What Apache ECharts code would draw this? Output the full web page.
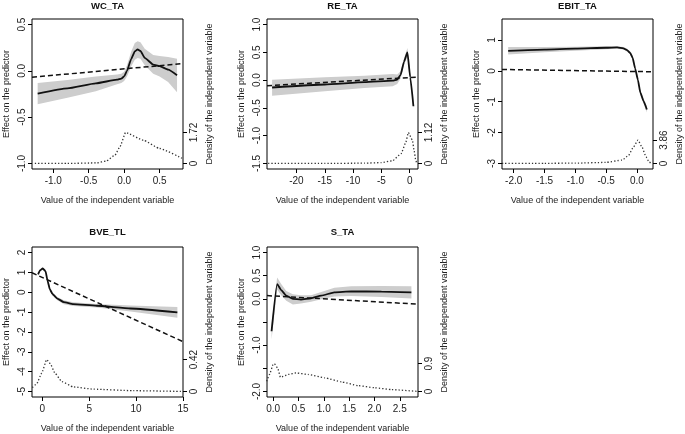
<!DOCTYPE html>
<html><head><meta charset="utf-8">
<script src="https://cdn.jsdelivr.net/npm/echarts@6/dist/echarts.min.js"></script>
<style>html,body{margin:0;padding:0;background:#fff}#c{width:685px;height:434px}</style>
</head><body><div id="c"></div>
<script>
// ---------- data ----------
const titles = ['WC_TA', 'RE_TA', 'EBIT_TA', 'BVE_TL', 'S_TA'];

// WC_TA
const wcX  = [-1.22, -0.8, -0.4, -0.1, -0.04, 0.0, 0.04, 0.1, 0.15, 0.19, 0.23, 0.29, 0.41, 0.5, 0.62, 0.746];
const wcY  = [-0.245, -0.189, -0.135, -0.095, -0.083, -0.06, 0.0, 0.13, 0.21, 0.232, 0.215, 0.14, 0.068, 0.05, 0.014, -0.047];
const wcLo = [-0.36, -0.29, -0.22, -0.145, -0.13, -0.11, -0.06, 0.05, 0.12, 0.14, 0.13, 0.06, -0.03, -0.06, -0.12, -0.23];
const wcHi = [-0.13, -0.10, -0.06, -0.04, -0.03, -0.01, 0.06, 0.21, 0.30, 0.32, 0.31, 0.24, 0.17, 0.16, 0.15, 0.13];
const wcDX = [-1.26, -0.8, -0.39, -0.25, -0.13, -0.06, 0.02, 0.27, 0.5, 0.83];
const wcDY = [0, 0, 0.03, 0.14, 0.46, 0.92, 1.72, 1.29, 0.83, 0.26];
const wcTX = [-1.30, 0.83];
const wcTY = [-0.069, 0.079];

// RE_TA
const reX  = [-24.3, -15, -8, -3, -2.2, -1.6, -1.0, -0.4, 0.1, 0.66];
const reY  = [-0.133, -0.079, -0.038, -0.01, 0.01, 0.095, 0.33, 0.50, 0.05, -0.47];
const reLo = [-0.28, -0.20, -0.14, -0.11, -0.07, 0.03, 0.27, 0.42, 0.0, -0.5];
const reHi = [0.005, 0.05, 0.08, 0.11, 0.10, 0.16, 0.39, 0.58, 0.1, -0.44];
const reDX = [-25, -15, -8, -5, -3, -1.5, -0.7, -0.23, 0.48, 0.77, 1.07, 1.25];
const reDY = [0, 0, 0.01, 0.03, 0.1, 0.36, 0.75, 1.12, 0.84, 0.48, 0.12, 0];
const reTX = [-25.2, 1.47];
const reTY = [-0.10, 0.055];

// EBIT_TA
const ebX  = [-2.09, -1.5, -1.0, -0.5, -0.324, -0.22, -0.16, -0.11, -0.07, -0.03, 0.016, 0.054, 0.107, 0.16];
const ebY  = [0.65, 0.687, 0.718, 0.749, 0.76, 0.73, 0.67, 0.58, 0.42, 0.08, -0.30, -0.70, -0.98, -1.25];
const ebLo = [0.53, 0.6, 0.65, 0.7, 0.72, 0.69, 0.62, 0.53, 0.37, 0.02, -0.36, -0.77, -1.06, -1.35];
const ebHi = [0.77, 0.77, 0.78, 0.80, 0.80, 0.77, 0.72, 0.63, 0.47, 0.14, -0.24, -0.63, -0.90, -1.15];
const ebDX = [-2.19, -1.5, -1.0, -0.51, -0.24, -0.135, -0.055, 0.016, 0.08, 0.146, 0.2, 0.25];
const ebDY = [0, 0.02, 0.05, 0.17, 0.55, 1.37, 2.75, 3.86, 2.75, 1.1, 0.2, 0];
const ebTX = [-2.19, 0.26];
const ebTY = [0.045, -0.03];

// BVE_TL
const bvX  = [-0.45, -0.25, 0.05, 0.35, 0.55, 0.8, 1.1, 1.6, 2.3, 3.3, 5.8, 9.4, 14.4];
const bvY  = [0.9, 1.1, 1.2, 1.05, 0.6, 0.15, -0.1, -0.32, -0.5, -0.6, -0.68, -0.82, -1.02];
const bvLo = [0.85, 1.05, 1.15, 1.0, 0.55, 0.1, -0.16, -0.4, -0.6, -0.69, -0.77, -0.97, -1.29];
const bvHi = [0.95, 1.15, 1.25, 1.1, 0.65, 0.2, -0.04, -0.24, -0.4, -0.51, -0.59, -0.67, -0.75];
const bvDX = [-1.07, -0.6, -0.07, 0.47, 0.83, 1.36, 2.07, 3.3, 5.45, 9.7, 15];
const bvDY = [0.05, 0.1, 0.24, 0.42, 0.37, 0.24, 0.13, 0.06, 0.03, 0.01, 0];
const bvTX = [-1.1, 15.0];
const bvTY = [0.98, -2.49];

// S_TA
const stX  = [-0.03, 0.08, 0.16, 0.26, 0.39, 0.55, 0.75, 0.95, 1.21, 1.54, 2.14, 2.73];
const stY  = [-0.70, 0.32, 0.19, 0.07, 0.0, -0.015, 0.013, 0.07, 0.14, 0.16, 0.157, 0.14];
const stLo = [-0.88, 0.20, 0.08, -0.04, -0.12, -0.10, -0.06, -0.01, 0.05, 0.06, 0.04, 0.01];
const stHi = [-0.55, 0.46, 0.32, 0.17, 0.10, 0.08, 0.08, 0.15, 0.24, 0.27, 0.28, 0.27];
const stDX = [-0.127, -0.07, 0.0, 0.026, 0.09, 0.145, 0.3, 0.455, 0.69, 1.02, 1.35, 1.68, 2.0, 2.34, 2.86];
const stDY = [0.33, 0.55, 0.87, 0.9, 0.76, 0.46, 0.55, 0.6, 0.55, 0.44, 0.31, 0.19, 0.12, 0.06, 0.0];
const stTX = [-0.12, 2.86];
const stTY = [0.07, -0.115];

// axis ranges and ticks
const xRanges = [[-1.30, 0.83], [-25.2, 1.47], [-2.19, 0.26], [-1.1, 15.0], [-0.12, 2.86]];
const yRanges = [[-1.06, 0.56], [-1.6, 1.1], [-3.18, 1.68], [-5.28, 2.28], [-2.12, 1.12]];
const xTicks = [[-1.0, -0.5, 0.0, 0.5], [-20, -15, -10, -5, 0], [-2.0, -1.5, -1.0, -0.5, 0.0], [0, 5, 10, 15], [0.0, 0.5, 1.0, 1.5, 2.0, 2.5]];
const yTicks = [[-1.0, -0.5, 0.0, 0.5], [-1.5, -1.0, -0.5, 0.0, 0.5, 1.0], [-3, -2, -1, 0, 1], [-5, -4, -3, -2, -1, 0, 1, 2], [-2.0, -1.5, -1.0, -0.5, 0.0, 0.5, 1.0]];
const yTickLabels = [[-1.0, -0.5, 0.0, 0.5], [-1.5, -1.0, -0.5, 0.0, 0.5, 1.0], [-3, -2, -1, 0, 1], [-5, -4, -3, -2, -1, 0, 1, 2], [-2.0, -1.0, 0.0, 0.5, 1.0]];
const densityTop = [1.72, 1.12, 3.86, 0.42, 0.9];

// ---------- layout / style ----------
const FONT = 'Liberation Sans, Arial, sans-serif';
const gridPos = [[32, 19], [267, 19], [502, 19], [32, 247], [267, 247]];
const titleTop = [1, 1, 1, 227, 227];
const GW = 151, GH = 150;
const densFrac = [0.223, 0.223, 0.168, 0.229, 0.2];
const decimals = [[1, 1], [0, 1], [1, 0], [0, 0], [1, 1]];

const sets = [
  [wcX, wcY, wcLo, wcHi, wcDX, wcDY, wcTX, wcTY],
  [reX, reY, reLo, reHi, reDX, reDY, reTX, reTY],
  [ebX, ebY, ebLo, ebHi, ebDX, ebDY, ebTX, ebTY],
  [bvX, bvY, bvLo, bvHi, bvDX, bvDY, bvTX, bvTY],
  [stX, stY, stLo, stHi, stDX, stDY, stTX, stTY]
];

const grids = [], xAxes = [], yAxes = [], series = [], titleArr = [];
const labelStyle = { fontSize: 10, color: '#222', fontFamily: FONT };
const nameStyle = { fontSize: 9, color: '#222', fontFamily: FONT };

sets.forEach((s, i) => {
  const [X, Y, LO, HI, DX, DY, TX, TY] = s;
  const [gl, gt] = gridPos[i];
  grids.push({ left: gl, top: gt, width: GW, height: GH, show: true, borderColor: '#000', borderWidth: 1, backgroundColor: 'transparent' });
  titleArr.push({ text: titles[i], left: gl + GW / 2, top: titleTop[i], padding: 0, textAlign: 'center',
    textStyle: { fontSize: 9.5, fontWeight: 'bold', color: '#111', fontFamily: FONT } });
  const dx = decimals[i][0], dy = decimals[i][1];
  xAxes.push({
    type: 'value', gridIndex: i, min: xRanges[i][0], max: xRanges[i][1],
    name: 'Value of the independent variable', nameLocation: 'middle', nameGap: 27, nameTextStyle: nameStyle,
    axisLine: { show: false, onZero: false }, splitLine: { show: false },
    axisTick: { show: true, length: 4, customValues: xTicks[i], lineStyle: { color: '#000' } },
    axisLabel: Object.assign({ customValues: xTicks[i], margin: 7, formatter: v => v.toFixed(dx) }, labelStyle)
  });
  yAxes.push({
    type: 'value', gridIndex: i, position: 'left', min: yRanges[i][0], max: yRanges[i][1],
    name: 'Effect on the predictor', nameLocation: 'middle', nameGap: 21, nameRotate: 90, nameTextStyle: nameStyle,
    axisLine: { show: false, onZero: false }, splitLine: { show: false },
    axisTick: { show: true, length: 4, customValues: yTicks[i], lineStyle: { color: '#000' } },
    axisLabel: Object.assign({ customValues: yTickLabels[i], rotate: 90, margin: 5, formatter: v => v.toFixed(dy) }, labelStyle)
  });
  const T = densityTop[i], f = densFrac[i];
  yAxes.push({
    type: 'value', gridIndex: i, position: 'right', min: -0.04 * T / f, max: 1.04 * T / f,
    name: 'Density of the independent variable', nameLocation: 'middle', nameGap: 22, nameRotate: 90, nameTextStyle: nameStyle,
    axisLine: { show: false, onZero: false }, splitLine: { show: false },
    axisTick: { show: true, length: 4, customValues: [0, T], lineStyle: { color: '#000' } },
    axisLabel: Object.assign({ customValues: [0, T], rotate: 90, margin: 6, formatter: v => (v === 0 ? '0' : String(T)) }, labelStyle)
  });
  // confidence band
  series.push({
    type: 'custom', xAxisIndex: i, yAxisIndex: 2 * i, silent: true, z: 1, clip: true,
    data: X.map((v, k) => [v, LO[k], HI[k]]),
    encode: { x: 0, y: [1, 2] },
    renderItem: (params, api) => {
      if (params.dataIndex !== 0) return null;
      const pts = [];
      for (let k = 0; k < X.length; k++) pts.push(api.coord([X[k], HI[k]]));
      for (let k = X.length - 1; k >= 0; k--) pts.push(api.coord([X[k], LO[k]]));
      return { type: 'polygon', shape: { points: pts }, style: { fill: '#cdcdcd' } };
    }
  });
  // density (dotted)
  series.push({
    type: 'line', xAxisIndex: i, yAxisIndex: 2 * i + 1, showSymbol: false, smooth: 0.15, smoothMonotone: 'x', z: 2,
    data: DX.map((v, k) => [v, DY[k]]),
    lineStyle: { color: '#333', width: 1.3, type: [1.3, 2] }
  });
  // linear trend (dashed)
  series.push({
    type: 'line', xAxisIndex: i, yAxisIndex: 2 * i, showSymbol: false, z: 3,
    data: TX.map((v, k) => [v, TY[k]]),
    lineStyle: { color: '#111', width: 1.5, type: [5, 3] }
  });
  // effect (solid)
  series.push({
    type: 'line', xAxisIndex: i, yAxisIndex: 2 * i, showSymbol: false, smooth: 0.15, smoothMonotone: 'x', z: 4,
    data: X.map((v, k) => [v, Y[k]]),
    lineStyle: { color: '#111', width: 1.8 }
  });
});

const chart = echarts.init(document.getElementById('c'), null, { renderer: 'canvas' });
chart.setOption({
  animation: false,
  backgroundColor: '#fff',
  title: titleArr,
  grid: grids,
  xAxis: xAxes,
  yAxis: yAxes,
  series: series
});
</script>
</body></html>
